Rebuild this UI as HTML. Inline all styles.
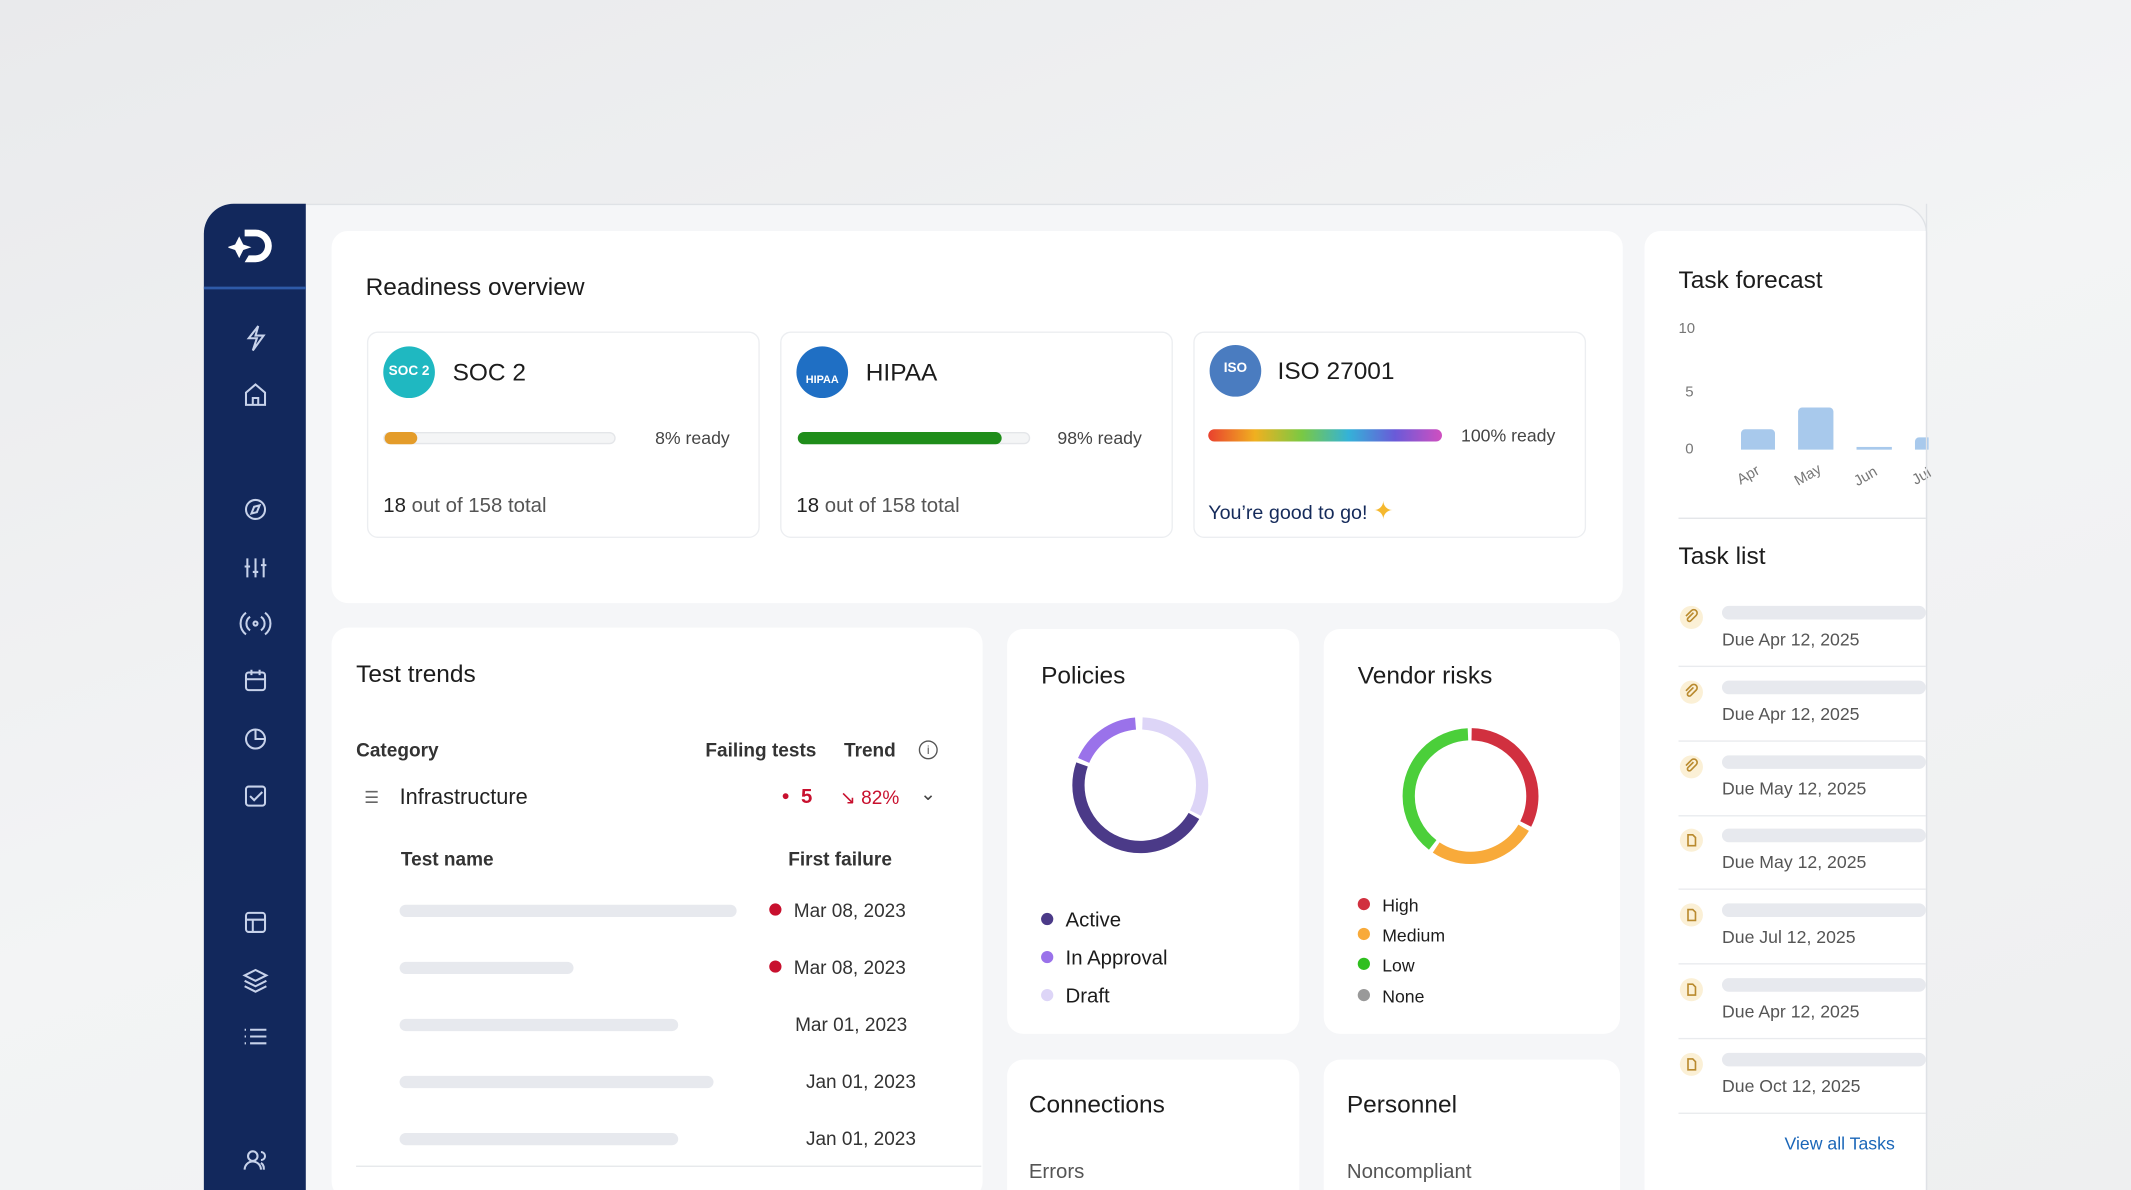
<!DOCTYPE html>
<html><head><meta charset="utf-8"><style>
*{margin:0;padding:0;box-sizing:border-box}
html,body{width:2131px;height:1190px;overflow:hidden}
body{background:linear-gradient(160deg,#e9eaec 0%,#f3f4f5 50%,#eeeff0 100%);font-family:"Liberation Sans",sans-serif;color:#1c1c1c}
#s{position:absolute;left:0;top:0;width:1568px;height:876px;transform:scale(1.3591,1.3585);transform-origin:0 0;overflow:hidden}
.a{position:absolute}
.card{position:absolute;background:#fff;border-radius:12px}
.sub{position:absolute;background:#fff;border:1px solid #eceef1;border-radius:8px}
.t{position:absolute;white-space:nowrap}
.sk{position:absolute;height:9px;border-radius:5px;background:#e7e9ee}
.dot{display:inline-block;width:9px;height:9px;border-radius:50%;margin-right:9px;vertical-align:1px}
</style></head><body><div id="s">
<div class="a" style="left:150px;top:150px;width:1268px;height:740px;background:#f5f6f8;border-radius:22px 22px 0 0;border:1px solid #dfe2e6;overflow:hidden">
</div>
<div class="a" style="left:150px;top:150px;width:75px;height:740px;background:#12285c;border-radius:22px 0 0 0"></div>
<div class="a" style="left:150px;top:211px;width:75px;height:2px;background:#2e5aa8"></div>
<svg class="a" style="left:168px;top:165px" width="40" height="32" viewBox="0 0 40 32"><path d="M12 4h8a12 12 0 0 1 0 24h-8l3-5h5a7 7 0 0 0 0-14h-8z" fill="#fff"/><path d="M8 9l3 6 6 2-6 2-3 6-3-6-6-2 6-2z" fill="#fff"/></svg>
<svg class="a" style="left:176px;top:235px" width="24" height="640" viewBox="0 0 24 640" fill="none" stroke="#c7d2ea" stroke-width="1.5">
<path d="M14 5l-7 9h6l-3 9 8-11h-6z"/>
<path d="M5 54l7-6 7 6v9H5z M10 63v-5h4v5"/>
<circle cx="12" cy="140" r="7"/><path d="M15 137l-2 5-4 1 2-5z"/>
<path d="M6 176v14M12 176v14M18 176v14M4 182h4M10 186h4M16 181h4"/>
<path d="M8 219a6 6 0 0 0 0 10M16 219a6 6 0 0 1 0 10M5 216a10 10 0 0 0 0 16M19 216a10 10 0 0 1 0 16"/><circle cx="12" cy="224" r="1.5"/>
<rect x="5" y="260" width="14" height="13" rx="2"/><path d="M5 265h14M9 258v4M15 258v4"/>
<circle cx="12" cy="309" r="7"/><path d="M12 302v7h7"/>
<rect x="5" y="344" width="14" height="14" rx="2"/><path d="M8 351l3 3 6-6"/>
<rect x="5" y="437" width="14" height="14" rx="2"/><path d="M5 442h14M10 442v9"/>
<path d="M4 483l8-4 8 4-8 4z M4 487l8 4 8-4 M4 491l8 4 8-4"/>
<path d="M8 523h12M8 528h12M8 533h12M4 523h1M4 528h1M4 533h1"/>
<circle cx="10" cy="616" r="3.5"/><path d="M4 626a6 6 0 0 1 12 0M16 613a3 3 0 0 1 0 6M18 626a5 5 0 0 0-2-5"/>
</svg>

<div class="card" style="left:244px;top:170px;width:950px;height:274px"></div>
<div class="t" style="left:269px;top:201px;font-size:18px">Readiness overview</div>
<div class="sub" style="left:270px;top:244px;width:289px;height:152px"></div>
<div class="sub" style="left:574px;top:244px;width:289px;height:152px"></div>
<div class="sub" style="left:878px;top:244px;width:289px;height:152px"></div>
<div class="a" style="left:282px;top:255px;width:38px;height:38px;border-radius:50%;background:#1fb8c1;color:#fff;font-size:10px;font-weight:bold;text-align:center;line-height:38px">SOC 2</div>
<div class="t" style="left:333px;top:264px;font-size:18px">SOC 2</div>
<div class="a" style="left:282px;top:318px;width:171px;height:9px;border-radius:5px;background:#f4f5f6;border:1px solid #e4e6e9"></div>
<div class="a" style="left:283px;top:318px;width:24px;height:9px;border-radius:5px;background:#e49c2a"></div>
<div class="t" style="left:482px;top:315px;font-size:13px;color:#444">8% ready</div>
<div class="t" style="left:282px;top:364px;font-size:15px;color:#555"><span style="color:#222">18</span> out of 158 total</div>

<div class="a" style="left:586px;top:255px;width:38px;height:38px;border-radius:50%;background:#1f6fc4;color:#fff;font-size:8px;font-weight:bold;text-align:center;line-height:50px">HIPAA</div>
<div class="t" style="left:637px;top:264px;font-size:18px">HIPAA</div>
<div class="a" style="left:587px;top:318px;width:171px;height:9px;border-radius:5px;background:#f4f5f6;border:1px solid #e4e6e9"></div>
<div class="a" style="left:587px;top:318px;width:150px;height:9px;border-radius:5px;background:#1f8d1a"></div>
<div class="t" style="left:778px;top:315px;font-size:13px;color:#444">98% ready</div>
<div class="t" style="left:586px;top:364px;font-size:15px;color:#555"><span style="color:#222">18</span> out of 158 total</div>

<div class="a" style="left:890px;top:254px;width:38px;height:38px;border-radius:50%;background:#4a7cc0;color:#fff;font-size:10px;font-weight:bold;text-align:center;line-height:36px">ISO</div>
<div class="t" style="left:940px;top:263px;font-size:18px">ISO 27001</div>
<div class="a" style="left:889px;top:316px;width:172px;height:9px;border-radius:5px;background:linear-gradient(90deg,#e9412e,#f0b020,#7ac943,#34b2d8,#6a5ad8,#d04fc0)"></div>
<div class="t" style="left:1075px;top:313px;font-size:13px;color:#444">100% ready</div>
<div class="t" style="left:889px;top:366px;font-size:14.5px;color:#142a5a">You’re good to go! <span style="color:#f5b82e;font-size:18px">✦</span></div>

<div class="card" style="left:244px;top:462px;width:479px;height:420px"></div>
<div class="t" style="left:262px;top:486px;font-size:18px">Test trends</div>
<div class="t" style="left:262px;top:544px;font-size:14px;font-weight:bold;color:#333">Category</div>
<div class="t" style="left:519px;top:544px;font-size:14px;font-weight:bold;color:#333">Failing tests</div>
<div class="t" style="left:621px;top:544px;font-size:14px;font-weight:bold;color:#333">Trend</div>
<div class="a" style="left:676px;top:545px;width:14px;height:14px;border-radius:50%;border:1.3px solid #555;font-size:9px;text-align:center;line-height:12px;color:#555">i</div>
<div class="t" style="left:268px;top:580px;font-size:12px;color:#666">☰</div>
<div class="t" style="left:294px;top:579px;font-size:16px;color:#222">Infrastructure</div>
<div class="t" style="left:575px;top:578px;font-size:15px;color:#c8102e;font-weight:bold"><span style="font-size:10px;vertical-align:2px">●</span>&nbsp; 5</div>
<div class="t" style="left:618px;top:579px;font-size:14px;color:#c8102e">↘ 82%</div>
<div class="t" style="left:677px;top:576px;font-size:14px;color:#444">⌄</div>
<div class="t" style="left:295px;top:624px;font-size:14px;font-weight:bold;color:#333">Test name</div>
<div class="t" style="left:580px;top:624px;font-size:14px;font-weight:bold;color:#333">First failure</div>
<div class="sk" style="left:294px;top:666px;width:248px"></div>
<div class="sk" style="left:294px;top:708px;width:128px"></div>
<div class="sk" style="left:294px;top:750px;width:205px"></div>
<div class="sk" style="left:294px;top:792px;width:231px"></div>
<div class="sk" style="left:294px;top:834px;width:205px"></div>
<div class="t" style="left:566px;top:662px;font-size:14px;color:#333"><span class="dot" style="background:#c8102e"></span>Mar 08, 2023</div>
<div class="t" style="left:566px;top:704px;font-size:14px;color:#333"><span class="dot" style="background:#c8102e"></span>Mar 08, 2023</div>
<div class="t" style="left:585px;top:746px;font-size:14px;color:#333">Mar 01, 2023</div>
<div class="t" style="left:593px;top:788px;font-size:14px;color:#333">Jan 01, 2023</div>
<div class="t" style="left:593px;top:830px;font-size:14px;color:#333">Jan 01, 2023</div>
<div class="a" style="left:262px;top:858px;width:460px;height:1px;background:#e6e8eb"></div>

<div class="card" style="left:741px;top:463px;width:215px;height:298px"></div>
<div class="t" style="left:766px;top:487px;font-size:18px">Policies</div>
<svg class="a" style="left:784px;top:523px" width="110" height="110" viewBox="0 0 110 110" fill="none" stroke-width="9">
<g transform="rotate(-90 55 55)">
<circle cx="55" cy="55" r="45.5" pathLength="360" stroke="#ddd5f7" stroke-dasharray="115 360" stroke-dashoffset="-2"/>
<circle cx="55" cy="55" r="45.5" pathLength="360" stroke="#4b3a88" stroke-dasharray="170 360" stroke-dashoffset="-120"/>
<circle cx="55" cy="55" r="45.5" pathLength="360" stroke="#9a72ea" stroke-dasharray="62 360" stroke-dashoffset="-294"/>
</g></svg>
<div class="t" style="left:766px;top:669px;font-size:15px"><span class="dot" style="background:#4b3a88"></span>Active</div>
<div class="t" style="left:766px;top:697px;font-size:15px"><span class="dot" style="background:#9a72ea"></span>In Approval</div>
<div class="t" style="left:766px;top:725px;font-size:15px"><span class="dot" style="background:#ddd5f7"></span>Draft</div>

<div class="card" style="left:974px;top:463px;width:218px;height:298px"></div>
<div class="t" style="left:999px;top:487px;font-size:18px">Vendor risks</div>
<svg class="a" style="left:1027px;top:531px" width="110" height="110" viewBox="0 0 110 110" fill="none" stroke-width="9">
<g transform="rotate(-90 55 55)">
<circle cx="55" cy="55" r="45.5" pathLength="360" stroke="#d1303f" stroke-dasharray="116 360" stroke-dashoffset="-1"/>
<circle cx="55" cy="55" r="45.5" pathLength="360" stroke="#f8aa3a" stroke-dasharray="93 360" stroke-dashoffset="-121"/>
<circle cx="55" cy="55" r="45.5" pathLength="360" stroke="#4bcf3a" stroke-dasharray="140 360" stroke-dashoffset="-218"/>
</g></svg>
<div class="t" style="left:999px;top:659px;font-size:13px"><span class="dot" style="background:#d1303f"></span>High</div>
<div class="t" style="left:999px;top:681px;font-size:13px"><span class="dot" style="background:#f8aa3a"></span>Medium</div>
<div class="t" style="left:999px;top:703px;font-size:13px"><span class="dot" style="background:#2fbf1f"></span>Low</div>
<div class="t" style="left:999px;top:726px;font-size:13px"><span class="dot" style="background:#999"></span>None</div>

<div class="card" style="left:741px;top:780px;width:215px;height:110px"></div>
<div class="t" style="left:757px;top:803px;font-size:18px">Connections</div>
<div class="t" style="left:757px;top:854px;font-size:15px;color:#555">Errors</div>
<div class="card" style="left:974px;top:780px;width:218px;height:110px"></div>
<div class="t" style="left:991px;top:803px;font-size:18px">Personnel</div>
<div class="t" style="left:991px;top:854px;font-size:15px;color:#555">Noncompliant</div>

<div class="a" style="left:1210px;top:170px;width:207px;height:720px;background:#fff;border-radius:12px 0 0 0"></div>
<div class="t" style="left:1235px;top:196px;font-size:18px">Task forecast</div>
<div class="t" style="left:1235px;top:236px;font-size:11px;color:#777">10</div>
<div class="t" style="left:1240px;top:283px;font-size:11px;color:#777">5</div>
<div class="t" style="left:1240px;top:325px;font-size:11px;color:#777">0</div>
<div class="a" style="left:1281px;top:316px;width:25px;height:15px;background:#a8c9ec;border-radius:3px 3px 0 0"></div>
<div class="a" style="left:1323px;top:300px;width:26px;height:31px;background:#a8c9ec;border-radius:3px 3px 0 0"></div>
<div class="a" style="left:1366px;top:329px;width:26px;height:2px;background:#a8c9ec"></div>
<div class="a" style="left:1409px;top:322px;width:10px;height:9px;background:#a8c9ec;border-radius:3px 0 0 0"></div>
<div class="t" style="left:1278px;top:344px;font-size:11px;color:#777;transform:rotate(-30deg)">Apr</div>
<div class="t" style="left:1320px;top:344px;font-size:11px;color:#777;transform:rotate(-30deg)">May</div>
<div class="t" style="left:1364px;top:345px;font-size:11px;color:#777;transform:rotate(-30deg)">Jun</div>
<div class="t" style="left:1407px;top:345px;font-size:11px;color:#777;transform:rotate(-30deg)">Jul</div>
<div class="a" style="left:1235px;top:381px;width:182px;height:1px;background:#e3e5e8"></div>
<div class="t" style="left:1235px;top:399px;font-size:18px">Task list</div>
<div id="tasks"></div>
<div class="t" style="left:1313px;top:834px;font-size:13px;color:#1a66b8">View all Tasks</div>
<div class="a" style="left:1417px;top:150px;width:1px;height:740px;background:#dfe2e6"></div>
</div>
<script>
var d=["Apr 12, 2025","Apr 12, 2025","May 12, 2025","May 12, 2025","Jul 12, 2025","Apr 12, 2025","Oct 12, 2025"],h="";
var clip='<svg width="17" height="17" viewBox="0 0 17 17" fill="none" stroke="#b98a2e" stroke-width="1.2"><path d="M10 5l-4 4a1.2 1.2 0 0 0 2 2l4-4a2.4 2.4 0 0 0-3.5-3.5l-4 4"/></svg>';
var doc='<svg width="17" height="17" viewBox="0 0 17 17" fill="none" stroke="#b98a2e" stroke-width="1.2"><path d="M6 4.5h3.5l2 2v6h-5.5z"/></svg>';
for(var i=0;i<7;i++){var y=445+i*54.8;
h+='<div class="a" style="left:1236px;top:'+(y+1)+'px;width:17px;height:17px;border-radius:50%;background:#fbf0d6">'+(i<3?clip:doc)+'</div>';
h+='<div class="sk" style="left:1267px;top:'+(y+1)+'px;width:150px;height:10px"></div>';
h+='<div class="t" style="left:1267px;top:'+(y+18)+'px;font-size:13px;color:#555">Due '+d[i]+'</div>';
h+='<div class="a" style="left:1235px;top:'+(y+45)+'px;width:182px;height:1px;background:#e9ebee"></div>';}
document.getElementById('tasks').outerHTML=h;
</script>
</body></html>
